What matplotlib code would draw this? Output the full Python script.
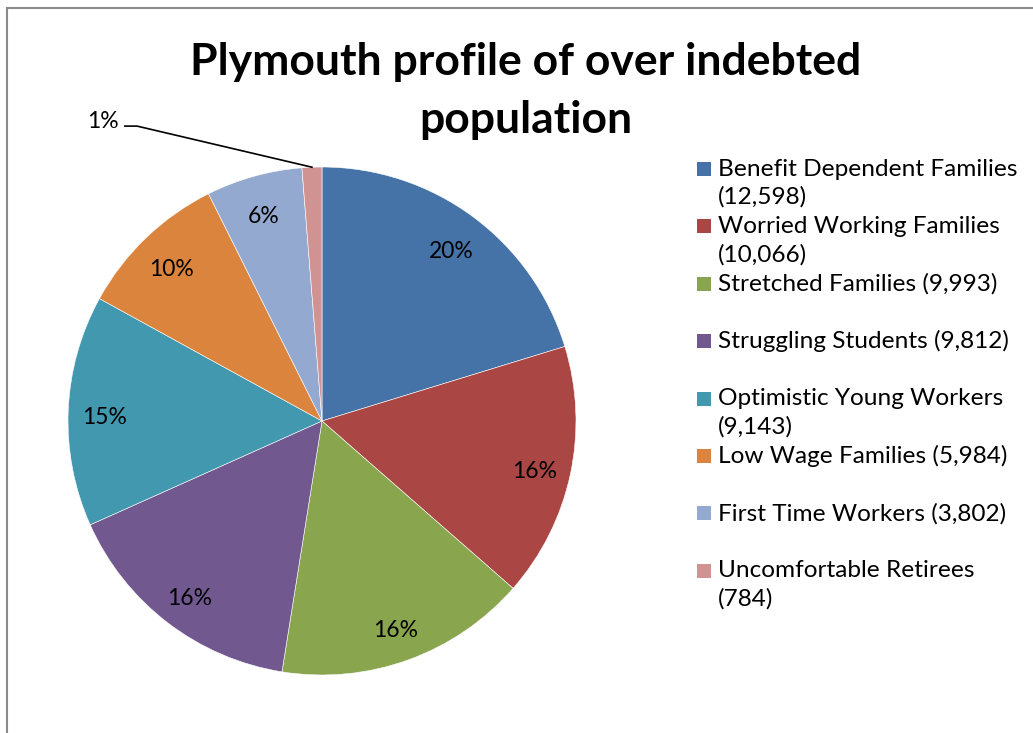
import numpy as np
import matplotlib.pyplot as plt
from matplotlib.patches import Rectangle

# données
categories = ["Benefit Dependent Families", "Worried Working Families", "Stretched Families",
              "Struggling Students", "Optimistic Young Workers", "Low Wage Families",
              "First Time Workers", "Uncomfortable Retirees"]
values = [12598, 10066, 9993, 9812, 9143, 5984, 3802, 784]
legend_labels = ["Benefit Dependent Families\n(12,598)", "Worried Working Families\n(10,066)",
                 "Stretched Families (9,993)", "Struggling Students (9,812)",
                 "Optimistic Young Workers\n(9,143)", "Low Wage Families (5,984)",
                 "First Time Workers (3,802)", "Uncomfortable Retirees\n(784)"]
colors = ["#4572a7", "#aa4643", "#89a54e", "#71588f", "#4198af", "#db843d", "#93a9cf", "#d19392"]

plt.rcParams['font.family'] = ['Lato', 'DejaVu Sans']

W, H = 1033, 733
fig = plt.figure(figsize=(W / 100, H / 100), dpi=100)

# cadre du graphique (coupé à droite et en bas)
fig.patches.append(Rectangle((7 / W, -0.1), 1.2, (H - 8) / H + 0.1, transform=fig.transFigure,
                             fill=False, edgecolor="#8a8a8a", linewidth=1.5))

# position du camembert: centre (322, 421), rayon 254 px
cx, cy, r = 322, 421, 254
ax = fig.add_axes([(cx - r) / W, (H - cy - r) / H, 2 * r / W, 2 * r / H])

total = sum(values)

def fmt(p):
    return f"{p:.0f}%" if p >= 3 else ""

wedges, texts, autotexts = ax.pie(values, colors=colors, startangle=90, counterclock=False,
                                  autopct=fmt, pctdistance=0.855,
                                  wedgeprops=dict(edgecolor="white", linewidth=0.4),
                                  textprops=dict(fontsize=16.5, color="black"))
for t in autotexts:
    x, y = t.get_position()
    t.set_position((x, y - 0.02))
ax.set_xlim(-1, 1)
ax.set_ylim(-1, 1)
ax.set_aspect("equal")

# étiquette du petit secteur avec ligne de rappel
small = values[-1] / total * 100
ang = np.deg2rad(90 + 360 * (values[-1] / 2) / total)
tip = (np.cos(ang), np.sin(ang))
ax.plot([-0.776, -0.728, tip[0]], [1.161, 1.161, tip[1]], color="black", linewidth=1.2,
        clip_on=False)
ax.text(-0.80, 1.178, f"{small:.0f}%", fontsize=16.5, ha="right", va="center")

# titre
fig.text(526 / W, 1 - 62 / H, "Plymouth profile of over indebted", ha="center", va="center",
         fontsize=32, fontweight="bold")
fig.text(526 / W, 1 - 120 / H, "population", ha="center", va="center",
         fontsize=32, fontweight="bold")

# légende
for i, (lab, c) in enumerate(zip(legend_labels, colors)):
    y = 169 + i * 57.4
    fig.patches.append(Rectangle((697 / W, 1 - (y + 7) / H), 14 / W, 14 / H,
                                 transform=fig.transFigure, facecolor=c, edgecolor="none"))
    for j, line in enumerate(lab.split("\n")):
        fig.text(718 / W, 1 - (y + j * 28) / H, line, ha="left", va="center", fontsize=17.6)

fig.savefig("out.png", dpi=100)
